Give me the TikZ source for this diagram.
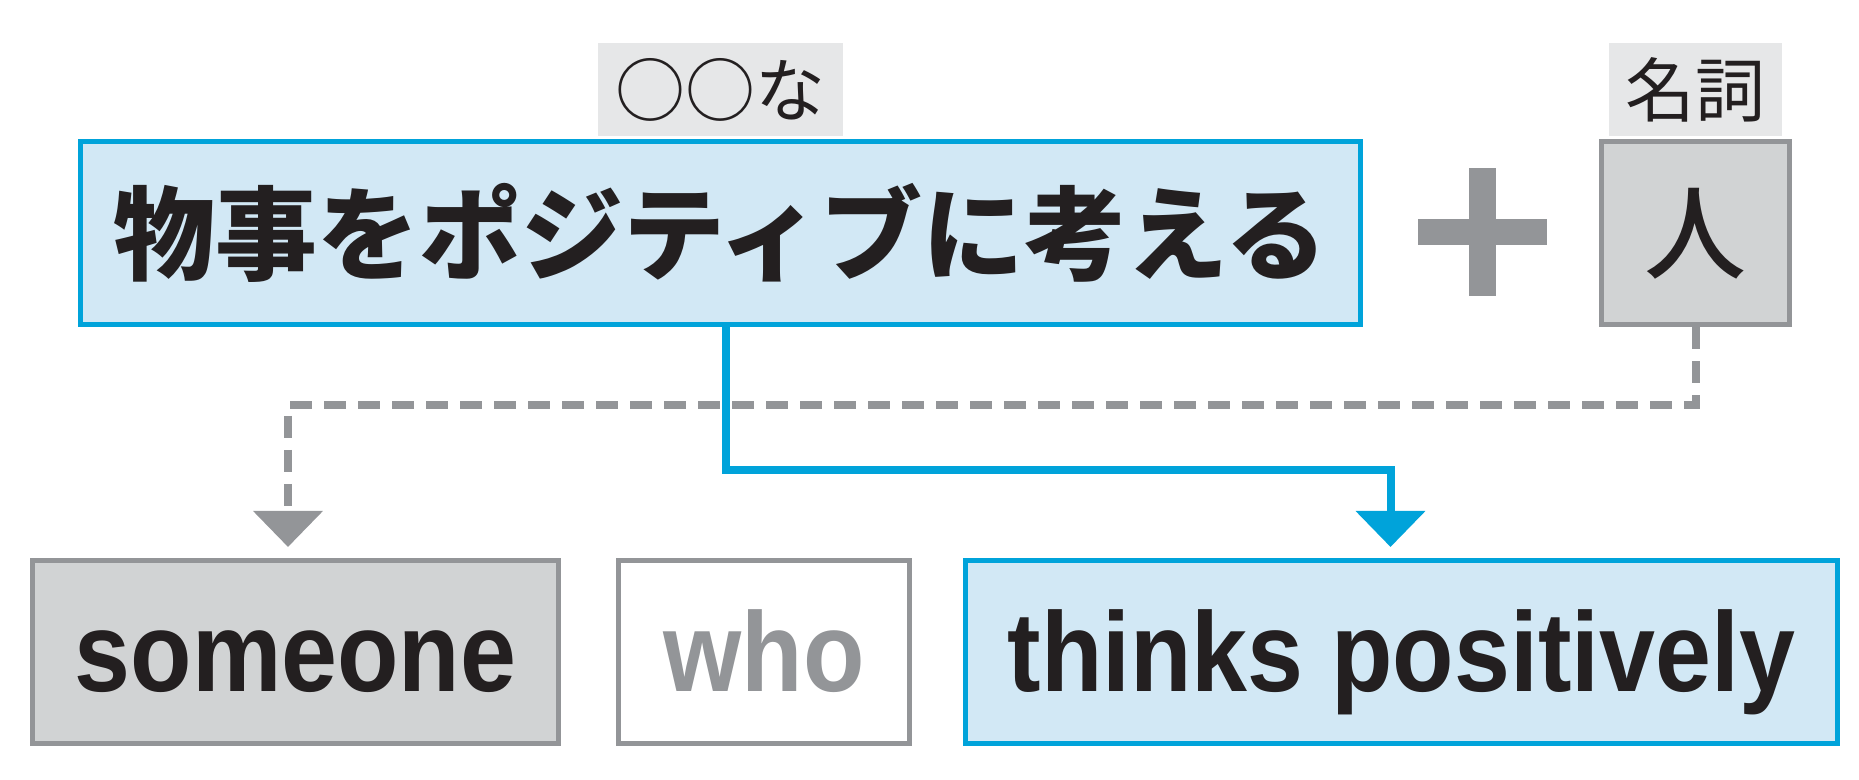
\documentclass[tikz,border=0pt]{standalone}
\usepackage{fontspec}
\setmainfont{Liberation Sans}
\newfontfamily\jpfont{Noto Sans CJK JP}
\newfontfamily\jpmedium{Noto Sans CJK JP Medium}
\newfontfamily\enfont[FakeStretch=0.89]{Liberation Sans}
\usetikzlibrary{positioning,arrows.meta}
\definecolor{boxblue}{RGB}{0,163,218}
\definecolor{fillblue}{RGB}{210,232,245}
\definecolor{linegray}{RGB}{147,149,152}
\definecolor{fillgray}{RGB}{209,211,212}
\definecolor{tagfill}{RGB}{230,231,232}
\definecolor{inkblack}{RGB}{35,31,32}
\tikzset{
	wordbox/.style={line width=0.05cm, minimum height=1.83cm, inner sep=0pt},
	bluebox/.style={wordbox, draw=boxblue, fill=fillblue},
	graybox/.style={wordbox, draw=linegray, fill=fillgray},
	whitebox/.style={wordbox, draw=linegray, fill=white},
	entext/.style={font=\enfont\bfseries\fontsize{32.15pt}{34pt}\selectfont, text height=1.0cm, text depth=0.2cm, text=inkblack},
	jptext/.style={font=\jpfont\bfseries\fontsize{29pt}{30pt}\selectfont, text height=0.9cm, text depth=0.12cm, text=inkblack},
	jptag/.style={fill=tagfill, inner sep=0pt, minimum height=0.93cm, font=\jpfont\fontsize{19.9pt}{21pt}\selectfont, text height=0.616cm, text depth=0.084cm, text=inkblack},
	blueline/.style={draw=boxblue, line width=0.08cm, -{Triangle[width=0.68cm,length=0.36cm]}, shorten >=0.11cm},
	grayline/.style={draw=linegray, line width=0.08cm, dash pattern=on 0.22cm off 0.12cm, -{Triangle[width=0.68cm,length=0.36cm]}, shorten >=0.11cm}
}
\begin{document}
\begin{tikzpicture}
			%%%%% TOP ROW %%%%%
			\useasboundingbox (0, 0) rectangle (18.59, 7.8);
			
			\node[bluebox, jptext, minimum width=12.80cm] (phrase) at (7.205, 5.465) {物事をポジティブに考える};
			\node[jptag, minimum width=2.45cm, above=0.025cm of phrase] (phrasetag) {○○な};
			
			\fill[linegray] (14.825, 5.48) +(-0.645, -0.13) rectangle +(0.645, 0.13);
			\fill[linegray] (14.825, 5.48) +(-0.135, -0.64) rectangle +(0.135, 0.64);
			
			\node[graybox, minimum width=1.88cm, font=\jpmedium\fontsize{29pt}{30pt}\selectfont, text height=0.88cm, text depth=0.12cm, text=inkblack] (hito) at (16.955, 5.465) {人};
			\node[jptag, minimum width=1.73cm, above=0.025cm of hito] (hitotag) {名詞};
			
			%%%%% BOTTOM ROW %%%%%
			\node[graybox, entext, minimum width=5.26cm] (someone) at (2.955, 1.28) {someone};
			\node[whitebox, entext, text=linegray, minimum width=2.91cm] (who) at (7.64, 1.28) {who};
			\node[bluebox, entext, minimum width=8.72cm] (thinks) at (14.015, 1.28) {thinks positively};
			
			%%%%% CONNECTORS %%%%%
			\draw[grayline] (hito.south) -- ++(0, -0.78) -| ([xshift=-0.075cm]someone.north);
			\draw[blueline] ([xshift=0.055cm]phrase.south) -- ++(0, -1.43) -| ([xshift=-0.11cm]thinks.north);
			
		\end{tikzpicture}
\end{document}
